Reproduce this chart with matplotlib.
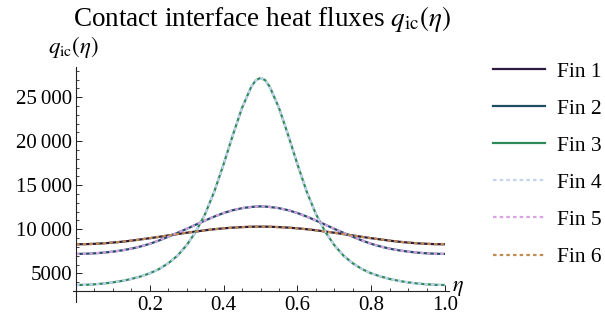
import matplotlib
matplotlib.use("Agg")
import matplotlib.pyplot as plt
from matplotlib.lines import Line2D
from matplotlib.ticker import FixedLocator, FuncFormatter

plt.rcParams['font.family'] = ['Liberation Serif', 'DejaVu Serif']
plt.rcParams['mathtext.fontset'] = 'stix'

# ---- data ----
eta = [0.0, 0.025, 0.05, 0.075, 0.1, 0.125, 0.15, 0.175, 0.2, 0.225, 0.25,
       0.275, 0.3, 0.325, 0.35, 0.375, 0.4, 0.425, 0.45, 0.475, 0.4875, 0.5,
       0.5125, 0.525, 0.55, 0.575, 0.6, 0.625, 0.65, 0.675, 0.7, 0.725, 0.75,
       0.775, 0.8, 0.825, 0.85, 0.875, 0.9, 0.925, 0.95, 0.975, 1.0]

fin1 = [8300, 8310, 8350, 8410, 8490, 8590, 8710, 8850, 8990, 9140, 9300,
        9460, 9610, 9750, 9890, 10010, 10110, 10190, 10250, 10290, 10300, 10300,
        10300, 10290, 10250, 10190, 10110, 10010, 9890, 9750, 9610, 9460, 9300,
        9140, 8990, 8850, 8710, 8590, 8490, 8410, 8350, 8310, 8300]

fin2 = [7200, 7220, 7270, 7350, 7460, 7610, 7800, 8050, 8350, 8730, 9150,
        9600, 10050, 10530, 11000, 11450, 11850, 12170, 12400, 12540, 12580, 12600,
        12580, 12540, 12400, 12170, 11850, 11450, 11000, 10530, 10050, 9600, 9150,
        8730, 8350, 8050, 7800, 7610, 7460, 7350, 7270, 7220, 7200]

fin3 = [3670, 3690, 3750, 3840, 3970, 4140, 4360, 4640, 5000, 5480, 6140,
        7000, 8200, 9750, 11750, 14300, 17400, 20700, 23800, 26200, 26950, 27200,
        26950, 26200, 23800, 20700, 17400, 14300, 11750, 9750, 8200, 7000, 6140,
        5480, 5000, 4640, 4360, 4140, 3970, 3840, 3750, 3690, 3670]

fin4 = list(fin3)
fin5 = list(fin2)
fin6 = list(fin1)

labels = ["Fin 1", "Fin 2", "Fin 3", "Fin 4", "Fin 5", "Fin 6"]
colors = ["#2d1b3d", "#1e4d66", "#2f8a5a", "#c4d4f2", "#d9a2e2", "#c08c52"]
series = [fin1, fin2, fin3, fin4, fin5, fin6]
styles = ["-", "-", "-", (0, (1.6, 1.4)), (0, (1.6, 1.4)), (0, (1.6, 1.4))]

xticks = [0.2, 0.4, 0.6, 0.8, 1.0]
yticks = [5000, 10000, 15000, 20000, 25000]

# ---- figure ----
W, H = 605, 320
fig = plt.figure(figsize=(W / 100, H / 100), dpi=100)

px_left, px_right, px_top, px_bot = 73, 449, 67, 302
ax = fig.add_axes([px_left / W, 1 - px_bot / H, (px_right - px_left) / W, (px_bot - px_top) / H])

for ys, c, ls, lab in zip(series, colors, styles, labels):
    ax.plot(eta, ys, color=c, lw=1.6, ls=ls, label=lab, solid_capstyle='butt')

x0_px = 76.0
sx = 369.0
ax.set_xlim((px_left - x0_px) / sx, (px_right - x0_px) / sx)
ax.set_ylim(1740, 28440)

ax.spines['top'].set_visible(False)
ax.spines['right'].set_visible(False)
ax.spines['left'].set_position(('data', 0))
ax.spines['bottom'].set_position(('data', 3000))
for s in ('left', 'bottom'):
    ax.spines[s].set_linewidth(0.8)
    ax.spines[s].set_color('#222222')

ax.xaxis.set_major_locator(FixedLocator(xticks))
ax.xaxis.set_minor_locator(FixedLocator([i * 0.05 for i in range(1, 21) if i % 4 != 0]))
ax.yaxis.set_major_locator(FixedLocator(yticks))
ax.yaxis.set_minor_locator(FixedLocator([v for v in range(4000, 29000, 1000) if v % 5000 != 0]))

ax.xaxis.set_major_formatter(FuncFormatter(lambda v, p: f"{v:.1f}"))
def yfmt(v, p):
    v = int(round(v))
    if v >= 10000:
        return f"{v // 1000}\u2009{v % 1000:03d}"
    return str(v)
ax.yaxis.set_major_formatter(FuncFormatter(yfmt))

ax.tick_params(axis='both', which='major', direction='in', length=4, width=0.7,
               labelsize=15, color='#222222')
ax.tick_params(axis='both', which='minor', direction='in', length=2.3, width=0.6,
               color='#222222')
ax.tick_params(axis='x', which='major', pad=3.5)
ax.tick_params(axis='y', which='major', pad=3)

# titles / axis labels
fig.text(262 / W, 1 - 19 / H, r"Contact interface heat fluxes $q_{\mathrm{ic}}(\eta)$",
         ha='center', va='center', fontsize=19.5)
fig.text(48 / W, 1 - 47 / H, r"$q_{\mathrm{ic}}(\eta)$", ha='left', va='center', fontsize=16.5)
fig.text(452 / W, 1 - 288 / H, r"$\eta$", ha='left', va='center', fontsize=16)

# legend
fs = 15.5
emp = fs * 100 / 72
leg_handles = [Line2D([0], [0], color=c, lw=1.6, ls=ls) for c, ls in zip(colors, styles)]
fig.legend(leg_handles, labels, loc='upper left',
           bbox_to_anchor=((493 - 0.4 * emp) / W, 1 - 53 / H),
           frameon=False, fontsize=fs, handlelength=52 / emp, handletextpad=12 / emp,
           labelspacing=0.79, borderaxespad=0)

fig.savefig("out.png", dpi=100)
